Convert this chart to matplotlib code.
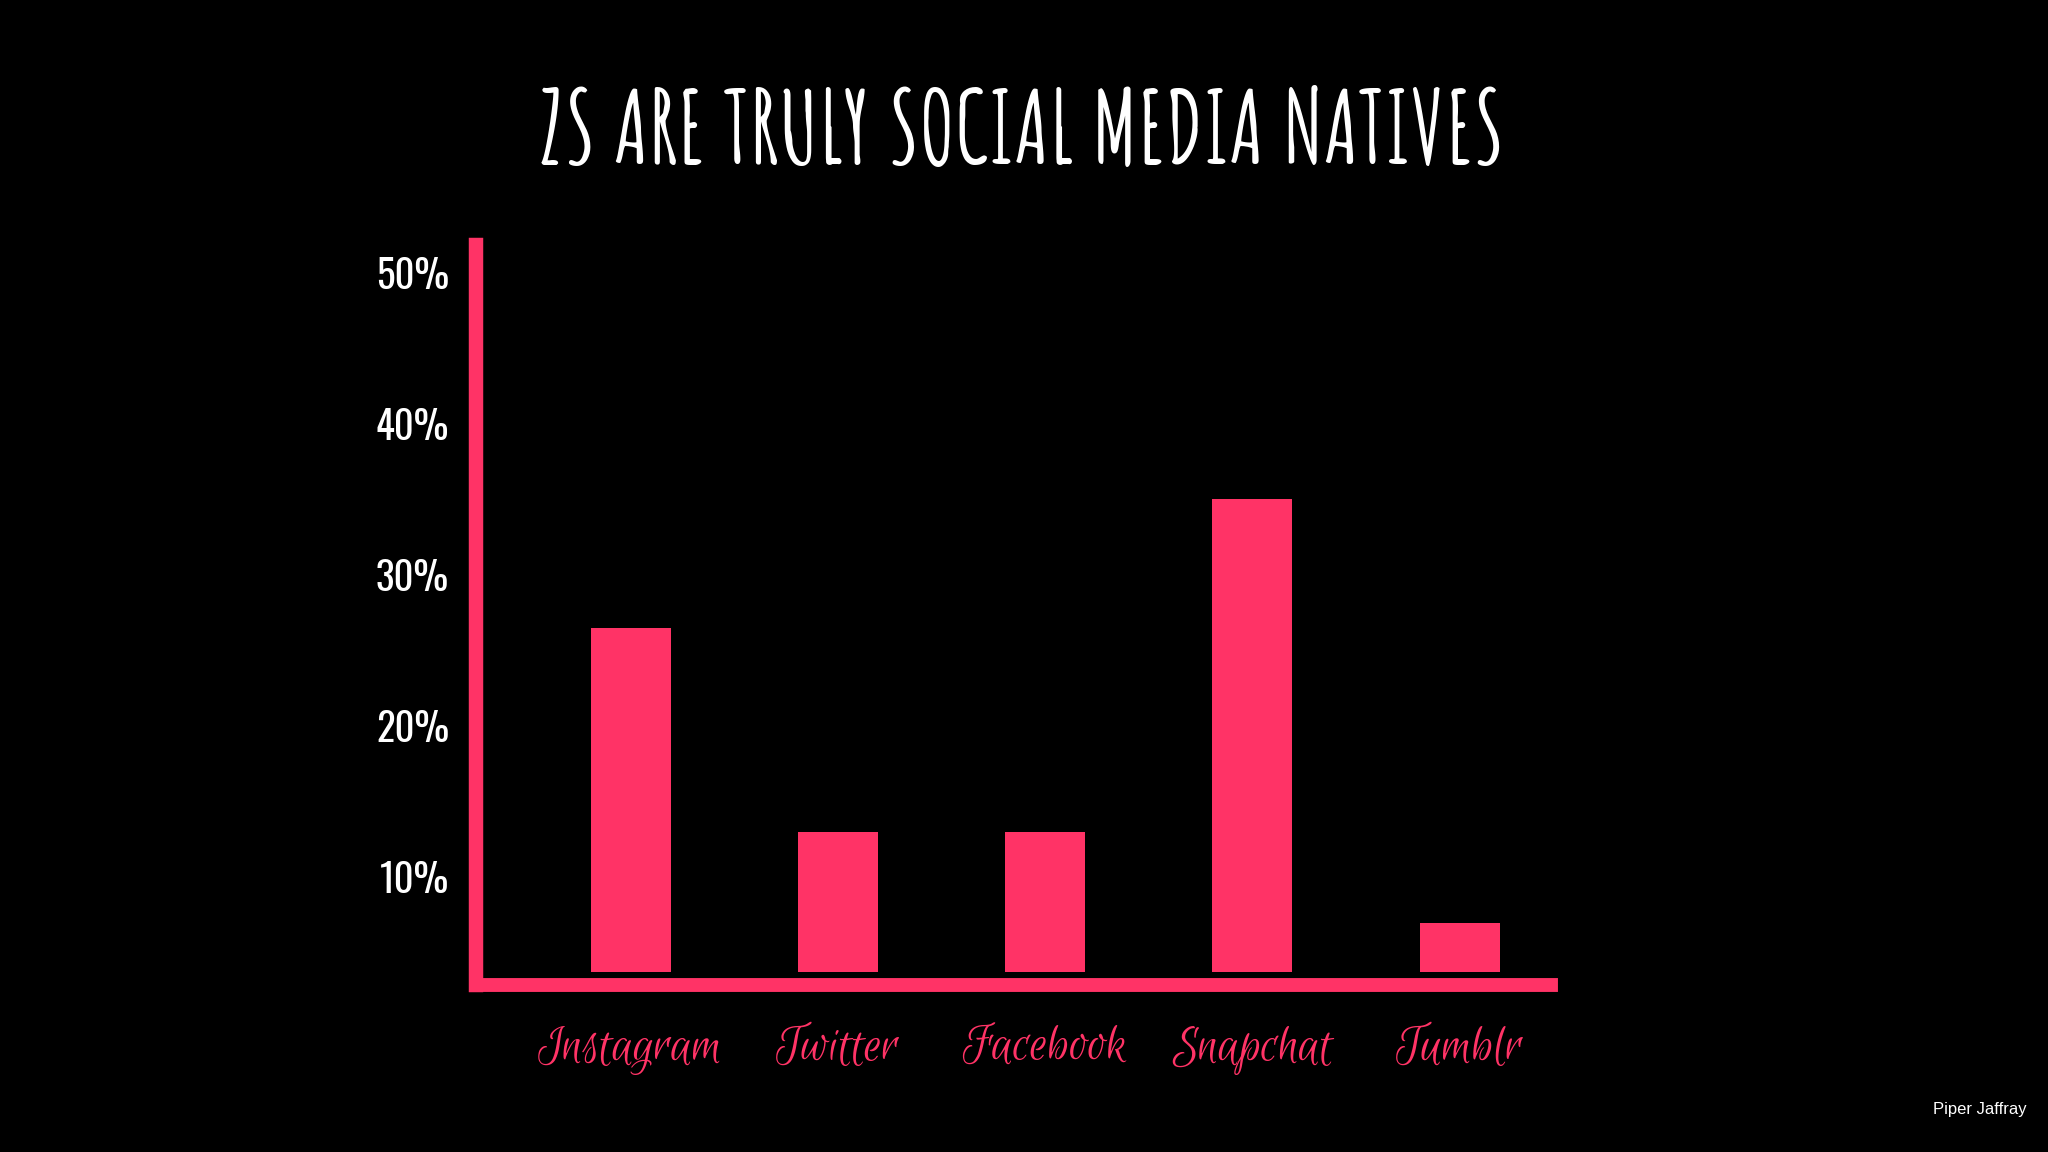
import numpy as np
import matplotlib.pyplot as plt

# share of teens naming each network as their favourite (%)
platforms = ["Instagram", "Twitter", "Facebook", "Snapchat", "Tumblr"]
share = [26.5, 13.0, 13.0, 35.0, 7.0]
tick_values = [10, 20, 30, 40, 50]
tick_labels = ["10%", "20%", "30%", "40%", "50%"]

pink = '#FF3366'
baseline = 3.7  # bars sit a little above the drawn axis line

fig = plt.figure(figsize=(20.48, 11.52), dpi=100, facecolor='black')
ax = fig.add_axes([0.23218, 0.1447, 0.52514, 0.6424], facecolor='black')

x = np.arange(len(platforms))
heights = [v - baseline for v in share]
ax.bar(x, heights, bottom=baseline, width=0.386, color=pink)

ax.set_xlim(-0.748, 4.44)
ax.set_ylim(2.85, 51.82)

# axis lines
for side in ['top', 'right']:
    ax.spines[side].set_visible(False)
ax.spines['left'].set_color(pink)
ax.spines['left'].set_linewidth(10.4)
ax.spines['bottom'].set_color(pink)
ax.spines['bottom'].set_linewidth(10)
ax.spines['bottom'].set_capstyle('projecting')

ax.set_yticks(tick_values)
ax.set_yticklabels(tick_labels, family=['Oswald', 'DejaVu Sans'], weight='light', fontsize=28, color='white')
ax.tick_params(axis='y', length=0, pad=19)

ax.set_xticks(x)
ax.set_xticklabels(platforms, family=['Euphoria Script', 'DejaVu Serif'], fontsize=40, color=pink)
ax.tick_params(axis='x', length=0, pad=29)

fig.text(0.499, 0.8906, "ZS ARE TRULY SOCIAL MEDIA NATIVES", family=['Amatic SC', 'DejaVu Sans'],
         fontsize=72, weight='bold', color='white', ha='center', va='center')
fig.text(0.9897, 0.0373, "Piper Jaffray", family=['Liberation Sans', 'DejaVu Sans'], fontsize=12,
         color='white', ha='right', va='center')

fig.savefig('out.png', dpi=100, facecolor='black')
